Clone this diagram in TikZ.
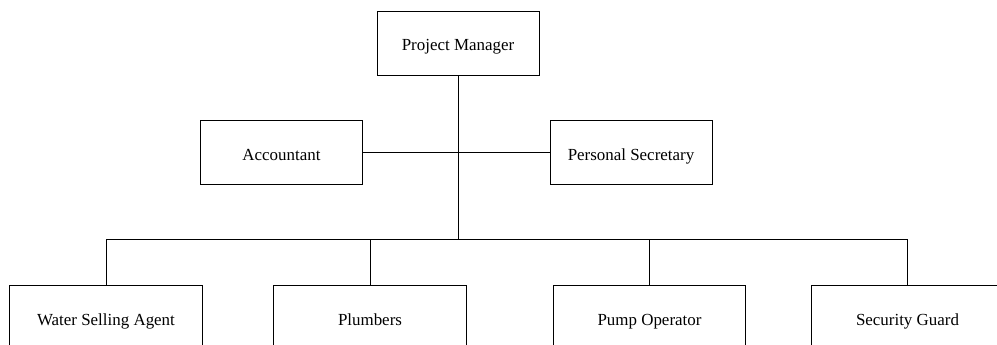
\documentclass[tikz,border=0pt]{standalone}
\usepackage{fontspec}
\setmainfont{Liberation Serif}
\usetikzlibrary{positioning}

\begin{document}
\begin{tikzpicture}[x=0.75pt, y=-0.75pt, line width=0.75pt,
  font=\fontsize{12.7}{15}\selectfont,
  post/.style={draw, inner sep=0pt, text height=12pt, text depth=1pt,
    minimum height=48pt, minimum width=121.5pt},
  staff/.style={post, minimum width=144.5pt}]
\clip (0,0) rectangle (997,345);
%
\node[post] (pm) at (458,43.5) {Project Manager};
\node[post] (acc) at (281.5,153) {Accountant};
\node[post] (ps) at (631,153) {Personal Secretary};
%
\node[staff] (wsa) at (106,318) {Water Selling Agent};
\node[staff] (plumb) at (370,318) {Plumbers};
\node[staff] (pump) at (649.5,318) {Pump Operator};
\node[staff] (guard) at (907.5,318) {Security Guard};
%
\coordinate (bus) at (458,239.5);
\draw (pm.south) -- (bus);
\draw (acc.east) -- (ps.west);
\draw (wsa.north) |- (bus) -| (guard.north);
\draw (plumb.north) -- (plumb.north |- bus);
\draw (pump.north) -- (pump.north |- bus);
\end{tikzpicture}
\end{document}
